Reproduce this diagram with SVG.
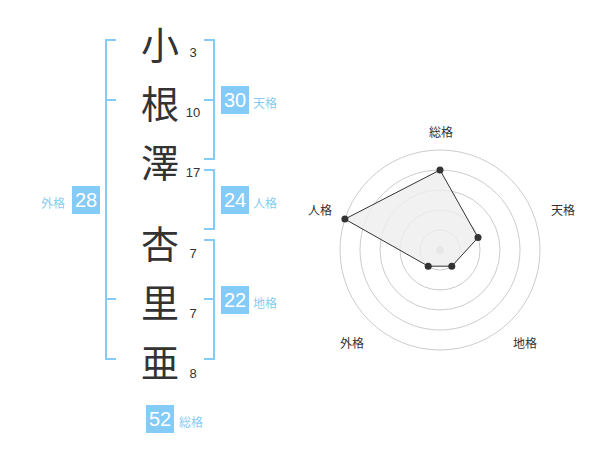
<svg xmlns="http://www.w3.org/2000/svg" width="600" height="470" viewBox="0 0 600 470">
<style>
.ch{font-family:"Noto Sans CJK JP","Noto Sans CJK SC",sans-serif;font-size:38px;fill:#333;text-anchor:middle;dominant-baseline:central}
.st{font-family:"Liberation Sans",Arial,sans-serif;font-size:13px;fill:#333;text-anchor:middle}
.bx{fill:#84cbf8}
.bn{font-family:"Liberation Sans",Arial,sans-serif;font-size:20px;fill:#fff;text-anchor:middle}
.lb{font-family:"Noto Sans CJK JP","Noto Sans CJK SC",sans-serif;font-size:12px;fill:#88ccf4}
.br{fill:none;stroke:#84cbf8;stroke-width:2}
.ring{fill:none;stroke:#ccc;stroke-width:1}
.rl{font-family:"Noto Sans CJK JP","Noto Sans CJK SC",sans-serif;font-size:12px;fill:#333;text-anchor:middle;dominant-baseline:central}
.dot{fill:#333}
</style>
<rect width="600" height="470" fill="#fff"/>
<g id="connectors">
<path class="br" d="M116 40H106V359H116M106 100H116M106 299H116"/>
<path class="br" d="M204 40H214V159H204M214 100H204"/>
<path class="br" d="M204 170H214V229H204"/>
<path class="br" d="M204 240H214V359H204M214 299H204"/>
</g>
<g id="char1"><text class="ch" x="160" y="42">小</text><text class="st" x="193" y="57">3</text></g>
<g id="char2"><text class="ch" x="160" y="101">根</text><text class="st" x="193" y="117">10</text></g>
<g id="char3"><text class="ch" x="160" y="160">澤</text><text class="st" x="193" y="177">17</text></g>
<g id="char4"><text class="ch" x="160" y="241">杏</text><text class="st" x="193" y="258">7</text></g>
<g id="char5"><text class="ch" x="160" y="300">里</text><text class="st" x="193" y="318">7</text></g>
<g id="char6"><text class="ch" x="160" y="360">亜</text><text class="st" x="193" y="378">8</text></g>
<g id="tenkaku"><rect class="bx" x="221" y="86" width="28" height="28"/><text class="bn" x="235" y="107">30</text><text class="lb" x="253" y="108">天格</text></g>
<g id="jinkaku"><rect class="bx" x="221" y="186" width="28" height="28"/><text class="bn" x="235" y="207">24</text><text class="lb" x="253" y="208">人格</text></g>
<g id="chikaku"><rect class="bx" x="221" y="286" width="28" height="28"/><text class="bn" x="235" y="307">22</text><text class="lb" x="253" y="308">地格</text></g>
<g id="gaikaku"><rect class="bx" x="72" y="186" width="28" height="28"/><text class="bn" x="86" y="207">28</text><text class="lb" x="41" y="208">外格</text></g>
<g id="soukaku"><rect class="bx" x="146" y="405" width="28" height="28"/><text class="bn" x="160" y="426">52</text><text class="lb" x="179" y="427">総格</text></g>
<g id="radar">
<circle class="ring" cx="440" cy="250" r="20"/>
<circle class="ring" cx="440" cy="250" r="40"/>
<circle class="ring" cx="440" cy="250" r="60"/>
<circle class="ring" cx="440" cy="250" r="80"/>
<circle class="ring" cx="440" cy="250" r="100"/>
<circle cx="440" cy="250" r="4" fill="#ccc"/>
<polygon points="440,170 478,237.6 451.8,266.2 428.2,266.2 344.9,219.1" fill="#eee" fill-opacity="0.8" stroke="#333" stroke-width="1"/>
<circle class="dot" cx="440" cy="170" r="3.5"/>
<circle class="dot" cx="478" cy="237.6" r="3.5"/>
<circle class="dot" cx="451.8" cy="266.2" r="3.5"/>
<circle class="dot" cx="428.2" cy="266.2" r="3.5"/>
<circle class="dot" cx="344.9" cy="219.1" r="3.5"/>
<text class="rl" x="441" y="131">総格</text>
<text class="rl" x="563" y="209">天格</text>
<text class="rl" x="525" y="342">地格</text>
<text class="rl" x="352" y="342">外格</text>
<text class="rl" x="320" y="209">人格</text>
</g>
</svg>
